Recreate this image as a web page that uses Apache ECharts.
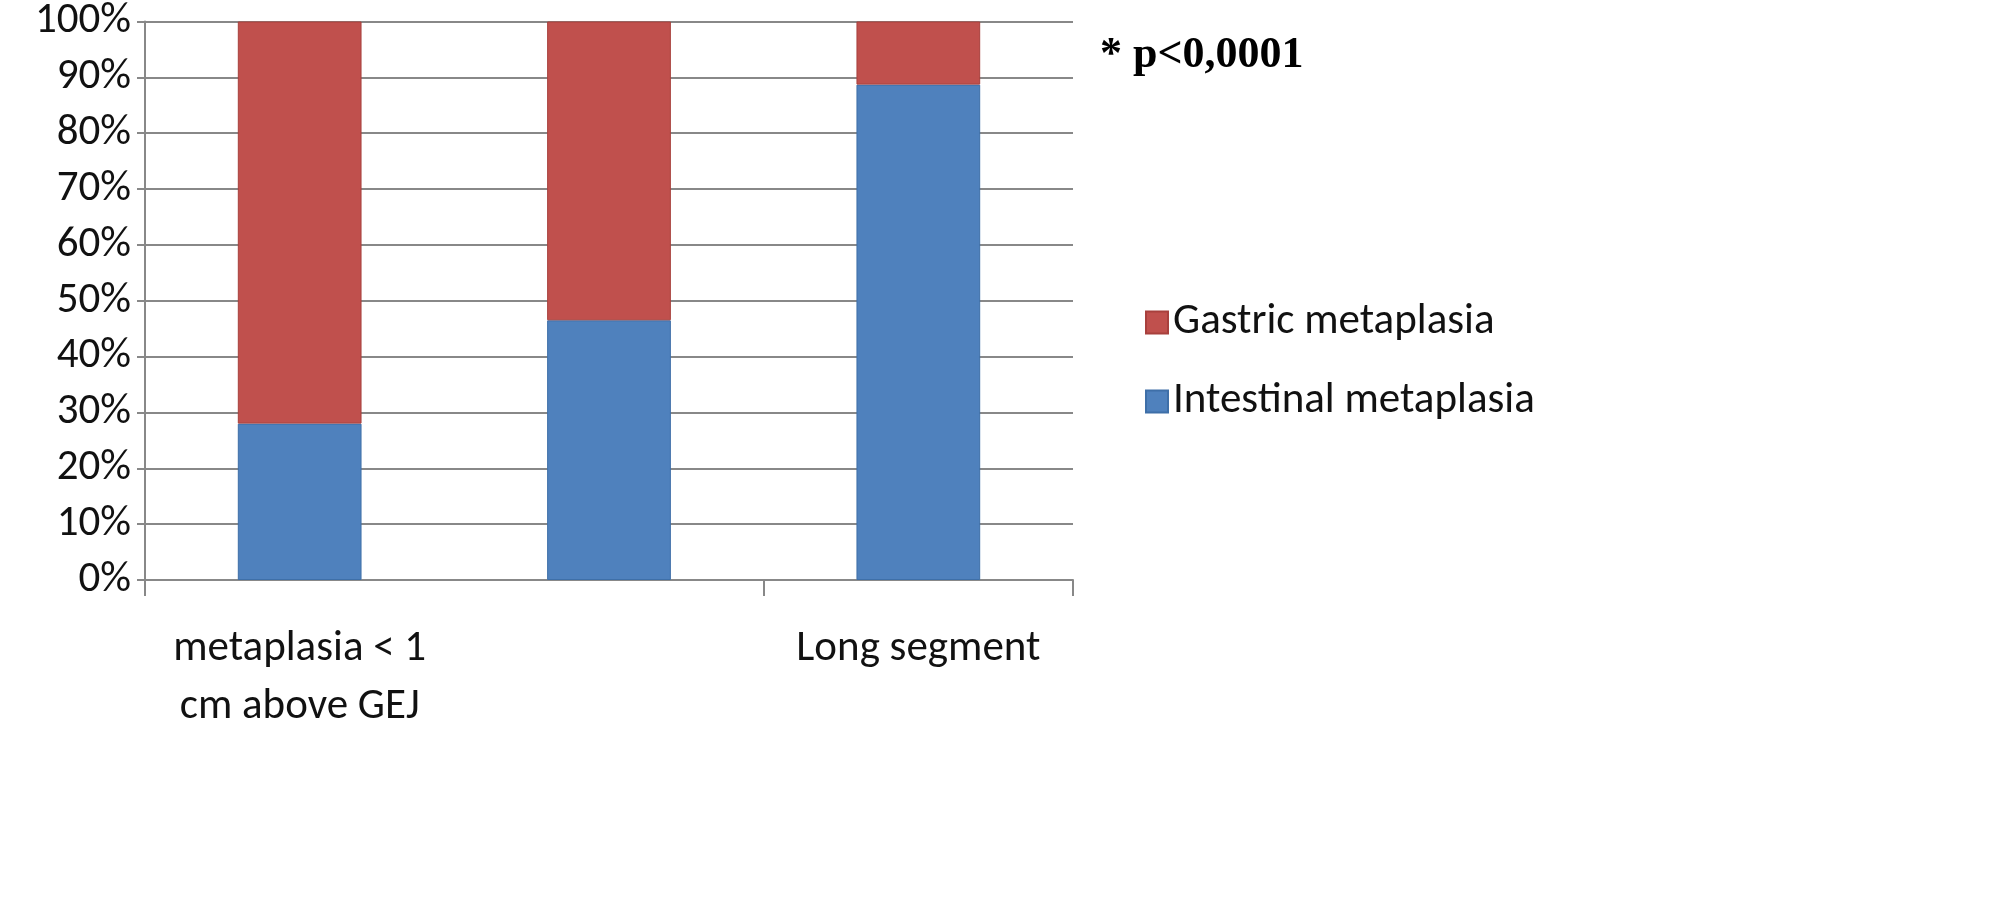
<!DOCTYPE html>
<html><head><meta charset="utf-8">
<script src="https://cdn.jsdelivr.net/npm/echarts@6/dist/echarts.min.js"></script>
<style>html,body{margin:0;padding:0;background:#fff}#c{width:2000px;height:914px}</style>
</head><body><div id="c"></div>
<script>
const categories = ['metaplasia < 1\ncm above GEJ', 'Short segment', 'Long segment'];
const intestinal = [28, 46.5, 88.7];
const gastric = [72, 53.5, 11.3];
const chart = echarts.init(document.getElementById('c'));
const font = 'Calibri, Carlito, Lato, "Liberation Sans", Arial, sans-serif';
chart.setOption({
  animation: false,
  grid: {left: 145, right: 927, top: 20, bottom: 334},
  legend: {
    orient: 'vertical', left: 1140, top: 296, itemGap: 36,
    itemWidth: 22, itemHeight: 22, icon: 'rect',
    textStyle: {fontSize: 43, color: '#111', fontFamily: font},
    data: ['Gastric metaplasia', 'Intestinal metaplasia']
  },
  graphic: [{type: 'text', left: 1100, top: 34,
    style: {text: '* p<0,0001', font: 'bold 44px "Liberation Serif", "Times New Roman", serif', fill: '#000'}}],
  xAxis: {
    type: 'category', data: categories,
    axisLine: {lineStyle: {color: '#888', width: 2}},
    axisTick: {show: true, length: 16, lineStyle: {color: '#888', width: 2}},
    axisLabel: {fontSize: 43, color: '#111', fontFamily: font, margin: 40, lineHeight: 58}
  },
  yAxis: {
    type: 'value', min: 0, max: 100, interval: 10,
    axisLine: {show: true, lineStyle: {color: '#888', width: 2}},
    axisTick: {show: true, length: 8, lineStyle: {color: '#888', width: 2}},
    splitLine: {lineStyle: {color: '#888', width: 2}},
    axisLabel: {formatter: '{value}%', fontSize: 43, color: '#111', fontFamily: font, margin: 14}
  },
  series: [
    {name: 'Intestinal metaplasia', type: 'bar', stack: 's', data: intestinal, barWidth: '40%',
     itemStyle: {color: '#4F81BD', borderColor: '#3E6FA8', borderWidth: 1}},
    {name: 'Gastric metaplasia', type: 'bar', stack: 's', data: gastric, barWidth: '40%',
     itemStyle: {color: '#C0504D', borderColor: '#A8403D', borderWidth: 1}}
  ]
});
</script></body></html>
